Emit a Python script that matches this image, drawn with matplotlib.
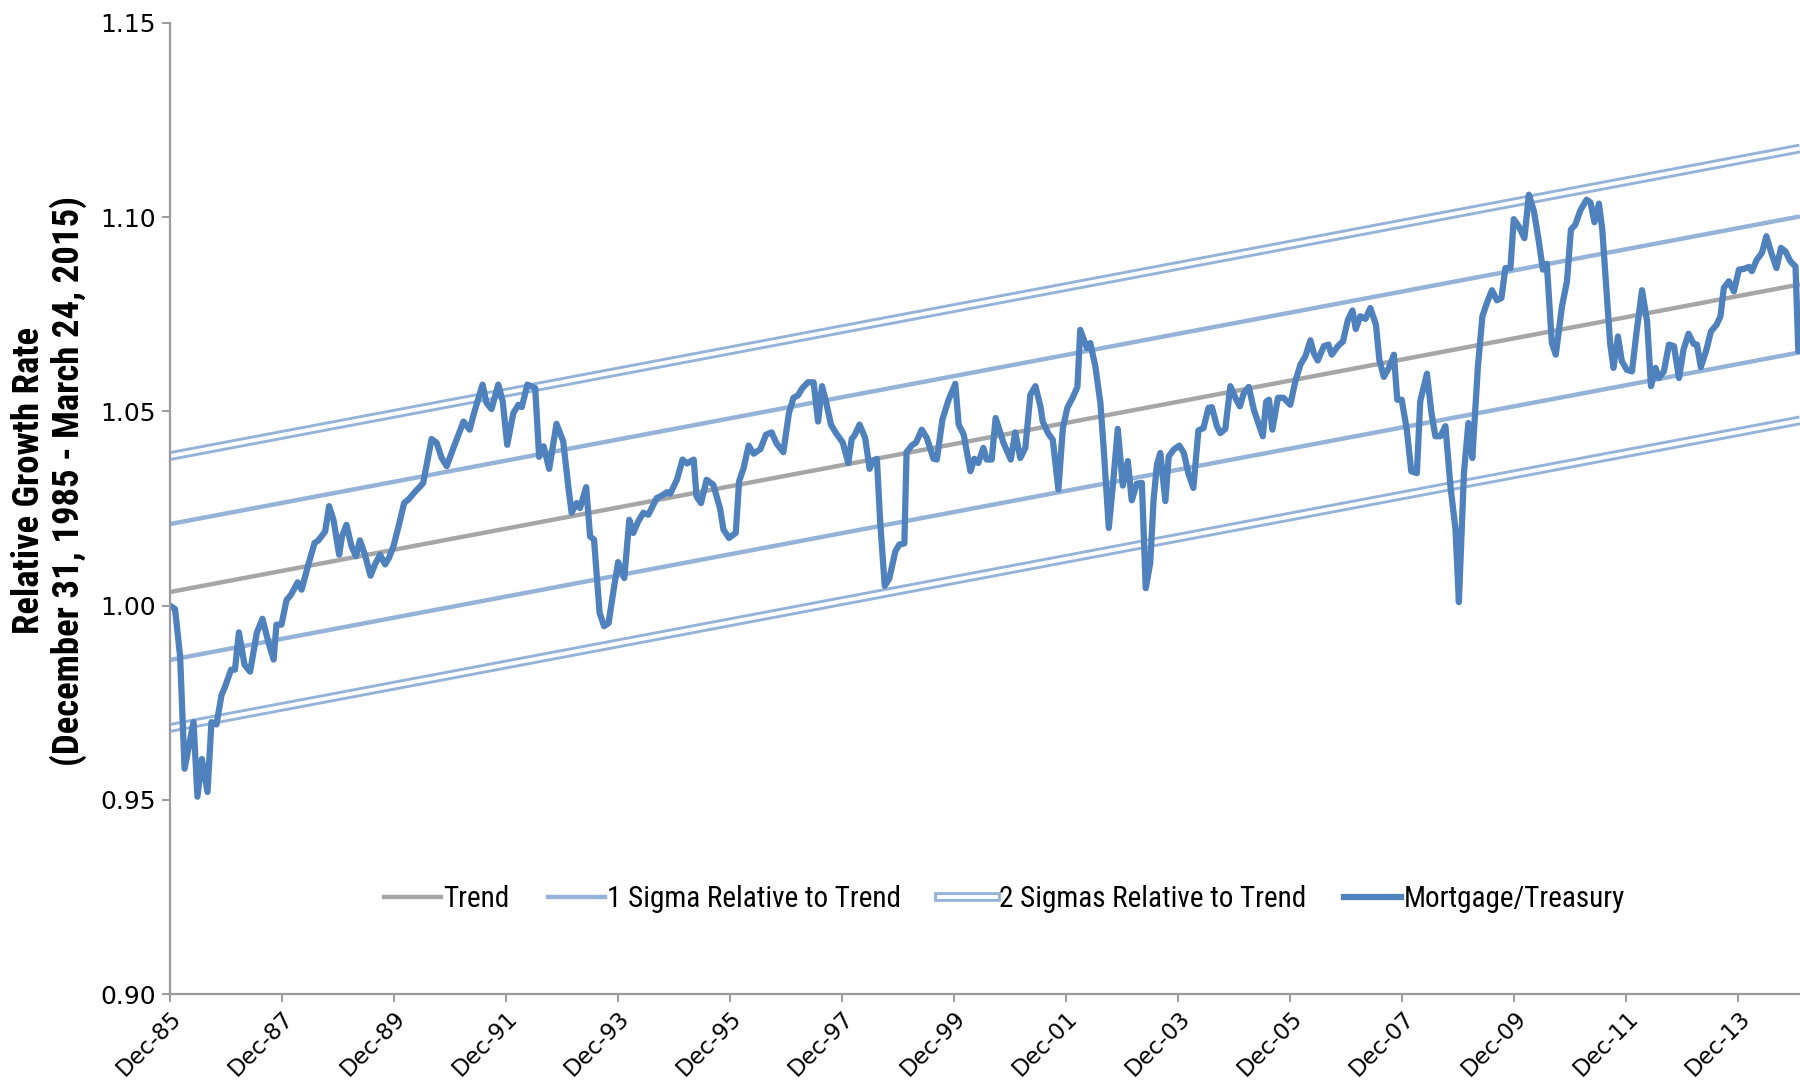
import matplotlib
matplotlib.use("Agg")
import matplotlib.pyplot as plt
from matplotlib import font_manager
from matplotlib.lines import Line2D
from matplotlib.legend_handler import HandlerTuple
import numpy as np

# years after Dec-1985
t_years = [
    0.00, 0.09, 0.18, 0.26, 0.42, 0.49, 0.57, 0.67, 0.74, 0.83, 0.92, 0.98, 1.09, 1.16, 1.23, 1.33,
    1.43, 1.55, 1.65, 1.76, 1.85, 1.90, 1.99, 2.08, 2.16, 2.28, 2.35, 2.47, 2.58, 2.65, 2.77, 2.84,
    2.92, 3.02, 3.07, 3.15, 3.24, 3.32, 3.39, 3.48, 3.58, 3.66, 3.75, 3.84, 3.91, 3.99, 4.08, 4.18,
    4.27, 4.38, 4.48, 4.52, 4.67, 4.76, 4.85,
    4.94, 5.06, 5.24, 5.35, 5.42, 5.58, 5.65, 5.74, 5.86, 5.94, 6.02, 6.13, 6.22, 6.28, 6.38, 6.52,
    6.59, 6.67, 6.77, 6.90, 7.02, 7.11, 7.17, 7.26, 7.32, 7.43, 7.50, 7.57, 7.67, 7.75, 7.83, 7.92,
    8.00, 8.11, 8.20, 8.27, 8.36, 8.45, 8.54, 8.69, 8.78, 8.87, 8.93, 9.05, 9.15, 9.23, 9.35, 9.40,
    9.48, 9.58, 9.70,
    9.82, 9.88, 9.98, 10.10, 10.16, 10.24, 10.33, 10.42, 10.54, 10.64, 10.74, 10.83, 10.95, 11.05,
    11.13, 11.21, 11.29, 11.39, 11.49, 11.57, 11.64, 11.71, 11.80, 11.89, 12.01, 12.11, 12.17, 12.22,
    12.31, 12.41, 12.49, 12.54, 12.62, 12.68, 12.76, 12.84, 12.95, 13.02, 13.11, 13.15, 13.24, 13.32,
    13.42, 13.51, 13.63, 13.69, 13.79, 13.90, 14.02, 14.08, 14.17, 14.29, 14.36, 14.43, 14.52, 14.58,
    14.67,
    14.74, 14.88, 15.01, 15.09, 15.18, 15.27, 15.36, 15.45, 15.54, 15.58, 15.68, 15.76, 15.86, 15.94,
    16.02, 16.12, 16.20, 16.25, 16.37, 16.43, 16.52, 16.61, 16.67, 16.76, 16.85, 16.92, 17.01, 17.10,
    17.17, 17.26, 17.35, 17.42, 17.50, 17.56, 17.62, 17.68, 17.77, 17.83, 17.92, 18.02, 18.10, 18.18,
    18.27, 18.36, 18.45, 18.54, 18.60, 18.69, 18.75, 18.84, 18.93, 19.02, 19.10, 19.17, 19.26, 19.35,
    19.44, 19.51,
    19.57, 19.62, 19.68, 19.78, 19.88, 20.00, 20.09, 20.18, 20.27, 20.36, 20.42, 20.49, 20.60, 20.68,
    20.74, 20.85, 20.94, 21.03, 21.11, 21.17, 21.25, 21.34, 21.43, 21.53, 21.59, 21.67, 21.76, 21.85,
    21.91, 21.99, 22.08, 22.16, 22.26, 22.32, 22.44, 22.52, 22.59, 22.68, 22.77, 22.86, 22.95, 23.01,
    23.10, 23.18, 23.25, 23.31, 23.35, 23.43, 23.51, 23.60, 23.69, 23.77, 23.84, 23.93, 23.99, 24.08,
    24.18, 24.26,
    24.35, 24.43, 24.51, 24.58, 24.67, 24.74, 24.85, 24.94, 25.01, 25.09, 25.18, 25.29, 25.36, 25.43,
    25.51, 25.57, 25.64, 25.71, 25.77, 25.85, 25.92, 26.01, 26.10, 26.18, 26.28, 26.37, 26.44, 26.52,
    26.58, 26.67, 26.76, 26.85, 26.94, 27.02, 27.11, 27.20, 27.26, 27.33, 27.43, 27.51, 27.61, 27.68,
    27.74, 27.83, 27.92, 28.01, 28.10, 28.19, 28.24, 28.33, 28.42, 28.50, 28.58, 28.68, 28.76, 28.84,
    28.93, 29.02, 29.07,
]

mortgage_treasury = [
    1.0000, 0.9991, 0.9870, 0.9580, 0.9700, 0.9508, 0.9605, 0.9520, 0.9700, 0.9694, 0.9770, 0.9790,
    0.9835, 0.9835, 0.9931, 0.9848, 0.9830, 0.9930, 0.9966, 0.9904, 0.9861, 0.9951, 0.9951, 1.0014,
    1.0028, 1.0060, 1.0041, 1.0106, 1.0161, 1.0168, 1.0191, 1.0256, 1.0220, 1.0131, 1.0178, 1.0208,
    1.0153, 1.0127, 1.0168, 1.0131, 1.0077, 1.0106, 1.0131, 1.0106, 1.0123, 1.0153, 1.0204, 1.0264,
    1.0275, 1.0294, 1.0309, 1.0316, 1.0429, 1.0419, 1.0380,
    1.0359, 1.0406, 1.0474, 1.0453, 1.0492, 1.0569, 1.0522, 1.0506, 1.0569, 1.0526, 1.0414, 1.0496,
    1.0517, 1.0511, 1.0569, 1.0560, 1.0383, 1.0410, 1.0352, 1.0468, 1.0423, 1.0307, 1.0239, 1.0264,
    1.0251, 1.0305, 1.0178, 1.0170, 0.9981, 0.9947, 0.9955, 1.0041, 1.0112, 1.0071, 1.0221, 1.0187,
    1.0217, 1.0239, 1.0234, 1.0277, 1.0283, 1.0292, 1.0288, 1.0324, 1.0376, 1.0366, 1.0376, 1.0281,
    1.0264, 1.0324, 1.0311,
    1.0250, 1.0196, 1.0174, 1.0187, 1.0320, 1.0354, 1.0412, 1.0391, 1.0403, 1.0440, 1.0446, 1.0417,
    1.0395, 1.0496, 1.0535, 1.0541, 1.0560, 1.0575, 1.0575, 1.0474, 1.0565, 1.0526, 1.0466, 1.0444,
    1.0420, 1.0367, 1.0429, 1.0438, 1.0466, 1.0432, 1.0352, 1.0372, 1.0378, 1.0213, 1.0051, 1.0069,
    1.0140, 1.0157, 1.0160, 1.0395, 1.0412, 1.0420, 1.0453, 1.0432, 1.0378, 1.0376, 1.0479, 1.0530,
    1.0571, 1.0466, 1.0440, 1.0346, 1.0378, 1.0367, 1.0406, 1.0376, 1.0376,
    1.0483, 1.0419, 1.0376, 1.0446, 1.0380, 1.0406, 1.0543, 1.0565, 1.0513, 1.0474, 1.0443, 1.0427,
    1.0299, 1.0457, 1.0509, 1.0537, 1.0563, 1.0710, 1.0663, 1.0676, 1.0616, 1.0522, 1.0402, 1.0200,
    1.0337, 1.0455, 1.0309, 1.0372, 1.0271, 1.0314, 1.0316, 1.0045, 1.0110, 1.0273, 1.0363, 1.0393,
    1.0269, 1.0384, 1.0402, 1.0412, 1.0393, 1.0341, 1.0303, 1.0451, 1.0457, 1.0509, 1.0511, 1.0462,
    1.0444, 1.0455, 1.0565, 1.0535, 1.0513, 1.0547, 1.0563, 1.0504, 1.0466, 1.0436,
    1.0525, 1.0530, 1.0453, 1.0535, 1.0535, 1.0517, 1.0577, 1.0620, 1.0642, 1.0683, 1.0650, 1.0631,
    1.0668, 1.0672, 1.0646, 1.0668, 1.0680, 1.0736, 1.0760, 1.0712, 1.0745, 1.0738, 1.0766, 1.0723,
    1.0633, 1.0589, 1.0612, 1.0646, 1.0530, 1.0530, 1.0453, 1.0346, 1.0341, 1.0526, 1.0597, 1.0496,
    1.0436, 1.0436, 1.0462, 1.0307, 1.0196, 1.0009, 1.0341, 1.0470, 1.0380, 1.0522, 1.0616, 1.0745,
    1.0779, 1.0812, 1.0786, 1.0792, 1.0869, 1.0869, 1.0995, 1.0976, 1.0946, 1.1058,
    1.1015, 1.0945, 1.0865, 1.0880, 1.0676, 1.0646, 1.0770, 1.0835, 1.0968, 1.0981, 1.1018, 1.1045,
    1.1038, 1.0987, 1.1035, 1.0968, 1.0822, 1.0676, 1.0612, 1.0693, 1.0629, 1.0607, 1.0603, 1.0702,
    1.0812, 1.0732, 1.0565, 1.0612, 1.0586, 1.0603, 1.0672, 1.0668, 1.0586, 1.0659, 1.0700, 1.0674,
    1.0672, 1.0614, 1.0659, 1.0706, 1.0723, 1.0745, 1.0818, 1.0835, 1.0809, 1.0865, 1.0867, 1.0872,
    1.0861, 1.0891, 1.0908, 1.0951, 1.0912, 1.0869, 1.0921, 1.0912, 1.0886, 1.0873, 1.0655,
]

# trend line end points and band width
trend_t = [0.0, 29.1]
trend_vals = [1.0035, 1.0827]
sigma = 0.0175

tick_years = list(range(0, 29, 2))
tick_labels = ["Dec-85", "Dec-87", "Dec-89", "Dec-91", "Dec-93", "Dec-95", "Dec-97", "Dec-99",
               "Dec-01", "Dec-03", "Dec-05", "Dec-07", "Dec-09", "Dec-11", "Dec-13"]

# pick a narrow font if one is installed (the original uses a condensed face)
installed = {f.name for f in font_manager.fontManager.ttflist}
narrow = "DejaVu Sans"
for name in ["Liberation Sans Narrow", "Roboto Condensed", "Open Sans Condensed", "Noto Sans Condensed"]:
    if name in installed:
        narrow = name
        break
condensed_ok = narrow != "DejaVu Sans"

c_trend = "#A6A6A6"
c_sig = "#95B3D7"
c_main = "#4F81BD"

fig = plt.figure(figsize=(18, 10.8), dpi=100)
ax = fig.add_axes([170 / 1800, 1 - 994 / 1080, 1 - 170 / 1800, (994 - 23) / 1080])

tt = np.array(trend_t)
tv = np.array(trend_vals)
kw = dict(solid_capstyle="butt")

ax.plot(tt, tv, color=c_trend, lw=3.2, **kw)
for k in (1, -1):
    ax.plot(tt, tv + k * sigma, color=c_sig, lw=3.2, **kw)
for k in (2, -2):
    ax.plot(tt, tv + k * sigma, color=c_sig, lw=7.0, **kw)
    ax.plot(tt, tv + k * sigma, color="white", lw=2.8, **kw)

ax.plot(t_years, mortgage_treasury, color=c_main, lw=4.5,
        solid_joinstyle="round", solid_capstyle="round")

ax.set_xlim(0, 29.1)
ax.set_ylim(0.90, 1.15)
ax.set_yticks(np.arange(0.90, 1.151, 0.05))
ax.set_yticklabels([f"{v:.2f}" for v in np.arange(0.90, 1.151, 0.05)])
ax.set_xticks(tick_years)
ax.set_xticklabels(tick_labels, rotation=45, ha="right", rotation_mode="anchor")

for s in ("top", "right"):
    ax.spines[s].set_visible(False)
for s in ("left", "bottom"):
    ax.spines[s].set_color("#9A9A9A")
    ax.spines[s].set_linewidth(1.6)
ax.tick_params(axis="both", direction="out", length=6, width=1.4, color="#9A9A9A",
               labelcolor="black")
ax.tick_params(axis="y", labelsize=18, pad=4)
ax.tick_params(axis="x", labelsize=16.5, pad=3)

fig.text(49 / 1800, 1 - 481 / 1080,
         "Relative Growth Rate\n(December 31, 1985 - March 24, 2015)",
         rotation=90, ha="center", va="center", multialignment="center",
         fontsize=26.5 if condensed_ok else 19, fontweight="bold", family=narrow,
         linespacing=1.05)

h_trend = Line2D([], [], color=c_trend, lw=3.2)
h_sig1 = Line2D([], [], color=c_sig, lw=3.2)
h_sig2 = (Line2D([], [], color=c_sig, lw=7.0), Line2D([], [], color="white", lw=2.8))
h_main = Line2D([], [], color=c_main, lw=4.5)
ax.legend([h_trend, h_sig1, h_sig2, h_main],
          ["Trend", "1 Sigma Relative to Trend", "2 Sigmas Relative to Trend", "Mortgage/Treasury"],
          handler_map={tuple: HandlerTuple(ndivide=1, pad=0)},
          loc="center", bbox_to_anchor=(0.512, 0.098), ncol=4, frameon=False,
          prop={"family": narrow, "size": 21 if condensed_ok else 16}, handlelength=1.95,
          handletextpad=0.1, columnspacing=1.3)

fig.savefig("out.png", dpi=100)
